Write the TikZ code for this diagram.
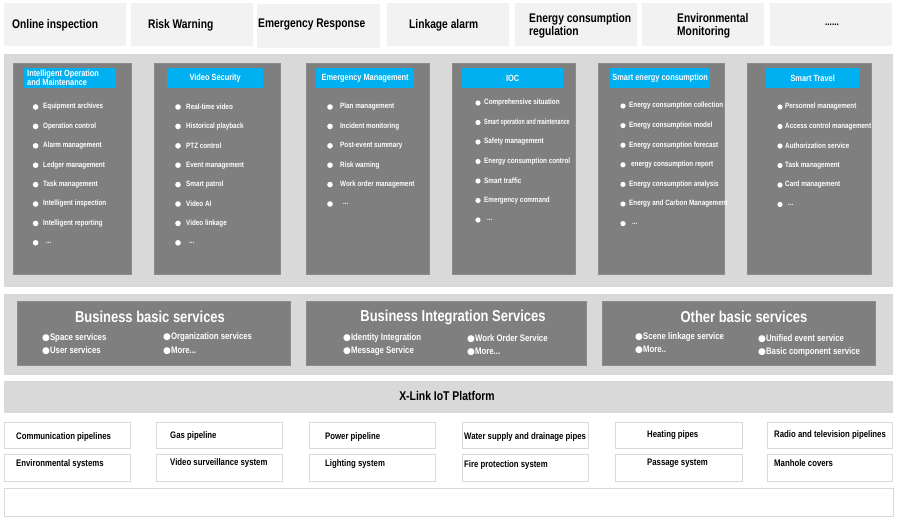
\documentclass[tikz,border=0pt]{standalone}
\usepackage{fontspec}
\usepackage{graphicx}
\setmainfont{Liberation Sans Bold}[FakeStretch=0.82]
\newfontfamily\symf{DejaVu Sans}
\definecolor{topbg}{HTML}{F2F2F2}
\definecolor{panelbg}{HTML}{D9D9D9}
\definecolor{darkbg}{HTML}{7F7F7F}
\definecolor{darkline}{HTML}{8C8C8C}
\definecolor{hdrblue}{HTML}{00B0F0}
\definecolor{boxline}{HTML}{D9D9D9}
\newcommand\rbox[6]{\node[#6, anchor=north west, inner sep=0, minimum width={(#4-#2)*1pt}, minimum height={(#5-#3)*1pt}] (#1) at (#2,#3) {};}
\newcommand\mydots{\hspace{3pt}...}
\tikzset{
  topbox/.style={fill=topbg, draw=none},
  bandbox/.style={fill=panelbg, draw=none},
  darkbox/.style={fill=darkbg, draw=darkline, line width=0.8pt},
  hdrbox/.style={fill=hdrblue, draw=none},
  basebox/.style={fill=white, draw=boxline, line width=1.2pt},
  toptext/.style={inner sep=0, anchor=west, align=left, font=\fontsize{12.5}{13}\selectfont, text=black},
  hdrtext/.style={inner sep=0, align=center, font=\fontsize{9}{9}\selectfont, text=white},
  itemtext/.style={inner sep=0, anchor=west, font=\fontsize{7.7}{8}\selectfont, text=white},
  svctitle/.style={inner sep=0, font=\fontsize{15.8}{16}\selectfont, text=white},
  svcitem/.style={inner sep=0, anchor=west, font=\fontsize{9.5}{10}\selectfont, text=white},
  basetext/.style={inner sep=0, anchor=west, font=\fontsize{9.5}{10}\selectfont, text=black},
  bul/.style={fill=white, draw=none},
}
\newcommand\bu{{\symf\fontsize{9}{9}\selectfont ●}}
\begin{document}
\begin{tikzpicture}[x=1pt,y=-1pt]
\useasboundingbox (0,0) rectangle (900,523);
% ---------- top row ----------
\rbox{t1}{4}{3}{126}{46}{topbox}
\rbox{t2}{131}{3}{253}{46}{topbox}
\rbox{t3}{257}{4}{380}{48}{topbox}
\rbox{t4}{387}{3}{509}{46}{topbox}
\rbox{t5}{515}{3}{637}{46}{topbox}
\rbox{t6}{642}{3}{764}{46}{topbox}
\rbox{t7}{770}{3}{892}{46}{topbox}
\node[toptext] (t1l) at (12,25) {Online inspection};
\node[toptext] (t2l) at (148,25) {Risk Warning};
\node[toptext] (t3l) at (258,25) {Emergency Response};
\node[toptext] (t4l) at (409,25) {Linkage alarm};
\node[toptext] (t5l) at (529,26) {Energy consumption\\regulation};
\node[toptext] (t6l) at (677,26) {Environmental\\Monitoring};
\node[inner sep=0, font=\fontsize{10}{10}\selectfont] (t7l) at (832,25) {......};
% ---------- application panel ----------
\rbox{app}{4}{54}{893}{287}{bandbox}
\rbox{p1}{13}{63}{131}{274}{darkbox}
\rbox{p2}{154}{63}{280}{274}{darkbox}
\rbox{p3}{306}{63}{429}{274}{darkbox}
\rbox{p4}{452}{63}{575}{274}{darkbox}
\rbox{p5}{598}{63}{724}{274}{darkbox}
\rbox{p6}{747}{63}{871}{274}{darkbox}
\rbox{h1}{24}{68}{116}{88}{hdrbox}
\rbox{h2}{167}{68}{263}{88}{hdrbox}
\rbox{h3}{316}{68}{414}{88}{hdrbox}
\rbox{h4}{462}{68}{563}{88}{hdrbox}
\rbox{h5}{610}{68}{710}{88}{hdrbox}
\rbox{h6}{766}{68}{859}{88}{hdrbox}
\node[hdrtext, anchor=west, align=left] (h1l) at (27,78) {Intelligent Operation\\and Maintenance};
\node[hdrtext] (h2l) at (h2.center) {Video Security};
\node[hdrtext] (h3l) at (h3.center) {Emergency Management};
\node[hdrtext] (h4l) at (h4.center) {IOC};
\node[hdrtext] (h5l) at (h5.center) {Smart energy consumption};
\node[hdrtext] (h6l) at (h6.center) {Smart Travel};
% items panel 1
\foreach \t [count=\i from 0] in {Equipment archives,Operation control,Alarm management,Ledger management,Task management,Intelligent inspection,Intelligent reporting,\mydots}{
  \fill[bul] (35.6,{107+19.4*\i}) circle (2.8);
  \node[itemtext] (p1i\i) at (43,{107+19.4*\i}) {\t};
}
% items panel 2
\foreach \t [count=\i from 0] in {Real-time video,Historical playback,PTZ control,Event management,Smart patrol,Video AI,Video linkage,\mydots}{
  \fill[bul] (178,{107+19.4*\i}) circle (2.8);
  \node[itemtext] (p2i\i) at (186,{107+19.4*\i}) {\t};
}
% items panel 3
\foreach \t [count=\i from 0] in {Plan management,Incident monitoring,Post-event summary,Risk warning,Work order management,\mydots}{
  \fill[bul] (330,{107+19.4*\i}) circle (2.8);
  \node[itemtext] (p3i\i) at (340,{107+19.4*\i}) {\t};
}
% items panel 4
\foreach \t [count=\i from 0] in {Comprehensive situation,\scalebox{0.84}[1]{Smart operation and maintenance},Safety management,Energy consumption control,Smart traffic,Emergency command,\mydots}{
  \fill[bul] (478,{103+19.5*\i}) circle (2.6);
  \node[itemtext] (p4i\i) at (484,{103+19.5*\i}) {\t};
}
% items panel 5
\foreach \t [count=\i from 0] in {Energy consumption collection,Energy consumption model,Energy consumption forecast,\hspace{2pt}energy consumption report,Energy consumption analysis,Energy and Carbon Management,\mydots}{
  \fill[bul] (623,{106+19.6*\i}) circle (2.6);
  \node[itemtext] (p5i\i) at (629,{106+19.6*\i}) {\t};
}
% items panel 6
\foreach \t [count=\i from 0] in {Personnel management,Access control management,Authorization service,Task management,Card management,\mydots}{
  \fill[bul] (780,{107+19.5*\i}) circle (2.6);
  \node[itemtext] (p6i\i) at (785,{107+19.5*\i}) {\t};
}
% ---------- services ----------
\rbox{svc}{4}{294}{893}{375}{bandbox}
\rbox{s1}{17}{301}{290}{365}{darkbox}
\rbox{s2}{306}{301}{586}{365}{darkbox}
\rbox{s3}{602}{301}{875}{365}{darkbox}
\node[svctitle] (s1t) at (150,317) {Business basic services};
\node[svctitle] (s2t) at (453,317) {Business Integration Services};
\node[svctitle] (s3t) at (744,317) {Other basic services};
\node[svcitem] (s1a) at (42,338) {\bu Space services};
\node[svcitem] (s1b) at (42,351) {\bu User services};
\node[svcitem] (s1c) at (163,337) {\bu Organization services};
\node[svcitem] (s1d) at (163,351) {\bu More...};
\node[svcitem] (s2a) at (343,338) {\bu Identity Integration};
\node[svcitem] (s2b) at (343,351) {\bu Message Service};
\node[svcitem] (s2c) at (467,339) {\bu Work Order Service};
\node[svcitem] (s2d) at (467,352) {\bu More...};
\node[svcitem] (s3a) at (635,337) {\bu Scene linkage service};
\node[svcitem] (s3b) at (635,350) {\bu More..};
\node[svcitem] (s3c) at (758,339) {\bu Unified event service};
\node[svcitem] (s3d) at (758,352) {\bu Basic component service};
% ---------- IoT platform ----------
\rbox{iot}{4}{381}{893}{413}{bandbox}
\node[inner sep=0, font=\fontsize{12.7}{13}\selectfont] (iotl) at (447,396) {X-Link IoT Platform};
% ---------- base boxes ----------
\rbox{b11}{4}{422}{130}{448}{basebox}
\rbox{b12}{156}{422}{282}{448}{basebox}
\rbox{b13}{309}{422}{435}{448}{basebox}
\rbox{b14}{462}{422}{588}{448}{basebox}
\rbox{b15}{615}{422}{742}{448}{basebox}
\rbox{b16}{767}{422}{892}{448}{basebox}
\rbox{b21}{4}{454}{130}{481}{basebox}
\rbox{b22}{156}{454}{282}{481}{basebox}
\rbox{b23}{309}{454}{435}{481}{basebox}
\rbox{b24}{462}{454}{588}{481}{basebox}
\rbox{b25}{615}{454}{742}{481}{basebox}
\rbox{b26}{767}{454}{892}{481}{basebox}
\node[basetext] (b11l) at (16,437) {Communication pipelines};
\node[basetext] (b12l) at (170,436) {Gas pipeline};
\node[basetext] (b13l) at (325,437) {Power pipeline};
\node[basetext] (b14l) at (464,437) {Water supply and drainage pipes};
\node[basetext] (b15l) at (647,435) {Heating pipes};
\node[basetext] (b16l) at (774,435) {Radio and television pipelines};
\node[basetext] (b21l) at (16,464) {Environmental systems};
\node[basetext] (b22l) at (170,463) {Video surveillance system};
\node[basetext] (b23l) at (325,464) {Lighting system};
\node[basetext] (b24l) at (464,465) {Fire protection system};
\node[basetext] (b25l) at (647,463) {Passage system};
\node[basetext] (b26l) at (774,463) {Manhole covers};
\rbox{bot}{4}{488}{893}{516}{basebox}
\end{tikzpicture}
\end{document}
